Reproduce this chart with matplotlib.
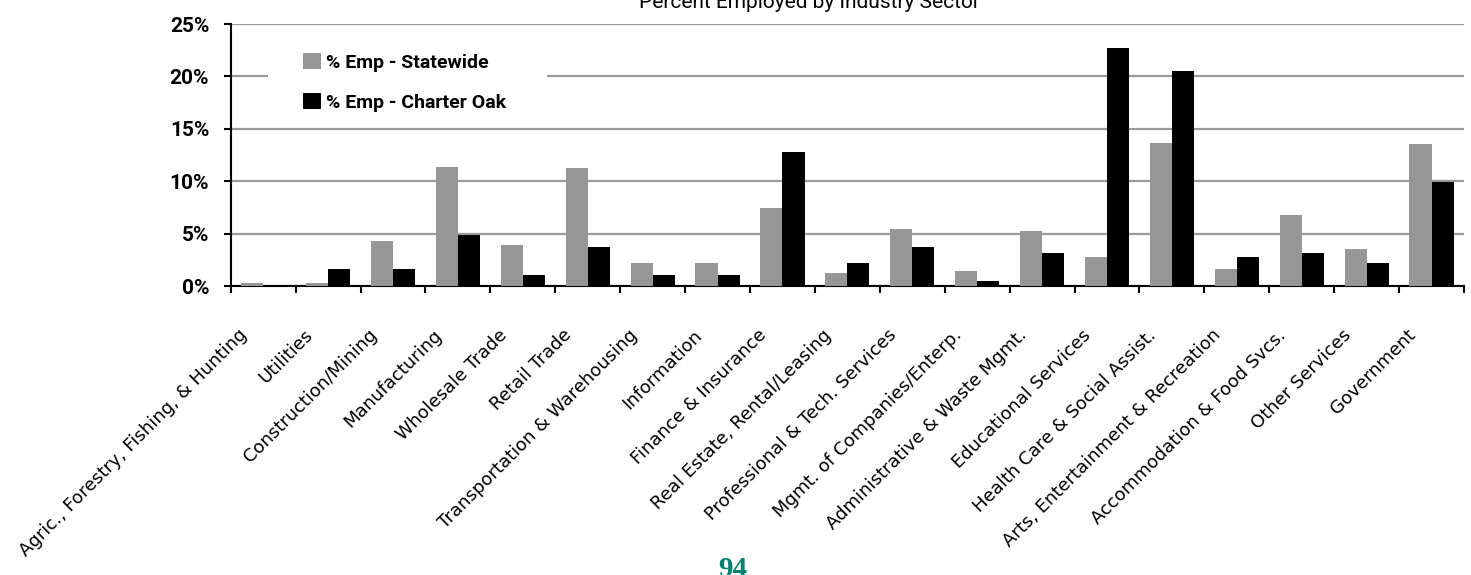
import numpy as np
import matplotlib
matplotlib.use("Agg")
import matplotlib.pyplot as plt
from matplotlib import transforms
from matplotlib.patches import Rectangle

# values (percent of employment)
sectors = [
    "Agric., Forestry, Fishing, & Hunting", "Utilities", "Construction/Mining",
    "Manufacturing", "Wholesale Trade", "Retail Trade",
    "Transportation & Warehousing", "Information", "Finance & Insurance",
    "Real Estate, Rental/Leasing", "Professional & Tech. Services",
    "Mgmt. of Companies/Enterp.", "Administrative & Waste Mgmt.",
    "Educational Services", "Health Care & Social Assist.",
    "Arts, Entertainment & Recreation", "Accommodation & Food Svcs.",
    "Other Services", "Government",
]
statewide = [0.3, 0.3, 4.3, 11.4, 3.9, 11.3, 2.2, 2.2, 7.45, 1.25, 5.45,
             1.45, 5.25, 2.75, 13.65, 1.6, 6.8, 3.5, 13.55]
charter_oak = [0.0, 1.6, 1.6, 4.9, 1.05, 3.7, 1.05, 1.05, 12.8, 2.2, 3.7,
               0.5, 3.15, 22.7, 20.5, 2.75, 3.15, 2.2, 9.9]
yticks = [0, 5, 10, 15, 20, 25]

NARROW = ["Roboto", "DejaVu Sans"]
W, H = 1471, 575

fig = plt.figure(figsize=(W / 100, H / 100), dpi=100)
ax = fig.add_axes([230.7 / W, 1 - 286 / H, (1464 - 230.7) / W, (286 - 24) / H])

x = np.arange(len(sectors))
bw = 0.34
ax.bar(x - bw / 2, statewide, bw, color="#969696", label="% Emp - Statewide", zorder=3)
ax.bar(x + bw / 2, charter_oak, bw, color="black", label="% Emp - Charter Oak", zorder=3)

ax.set_xlim(-0.5, len(sectors) - 0.5)
ax.set_ylim(0, 25)
ax.set_yticks(yticks)
ax.set_yticklabels([f"{v}%" for v in yticks], family=NARROW, fontsize=15,
                   fontweight="bold")
ax.yaxis.grid(True, color="#9a9a9a", lw=1.6, zorder=0)
ax.set_axisbelow(True)
ax.tick_params(axis="y", length=5, width=1.5, pad=10.5)

# tick marks sit on category boundaries, labels drawn separately
ax.set_xticks(np.arange(len(sectors) + 1) - 0.5)
ax.set_xticklabels([])
ax.tick_params(axis="x", length=5, width=1.5)

for s in ["top", "right"]:
    ax.spines[s].set_visible(False)
for s in ["left", "bottom"]:
    ax.spines[s].set_linewidth(1.5)

trans = transforms.blended_transform_factory(ax.transData, ax.transAxes) + \
    transforms.ScaledTranslation(-12 / 100, -40 / 100, fig.dpi_scale_trans)
for i, name in enumerate(sectors):
    ax.text(i, 0, name, transform=trans, rotation=45, ha="right", va="top",
            fontsize=13, family="DejaVu Sans")

# white patch behind the legend hides the 20% gridline
ax.add_patch(Rectangle(((268 - 230.7) / 1233.3, (286 - 118) / 262),
                       (547 - 268) / 1233.3, (118 - 30) / 262,
                       transform=ax.transAxes, facecolor="white",
                       edgecolor="none", zorder=1))
ax.legend(loc="upper left", bbox_to_anchor=((303 - 230.7) / 1233.3, (286 - 53) / 262),
          borderaxespad=0, borderpad=0, frameon=False, handlelength=0.93,
          handleheight=0.87, handletextpad=0.25, labelspacing=1.1,
          prop={"family": NARROW, "size": 14, "weight": "bold"})

fig.text(980 / W, 1 - 8 / H, "Percent Employed by Industry Sector", ha="right",
         va="baseline", family=NARROW, fontsize=15)
fig.text(732.5 / W, 1 - 577 / H, "94", ha="center", va="baseline",
         family="Liberation Serif", fontweight="bold", fontsize=21, color="#00806e")

fig.savefig("out.png", dpi=100)
